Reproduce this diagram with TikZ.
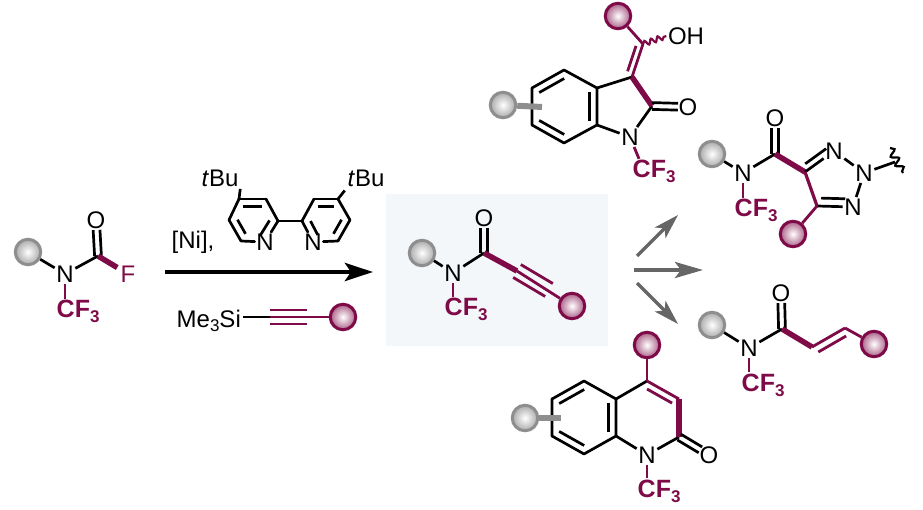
\documentclass[tikz,border=0pt]{standalone}
\usepackage{fontspec}
\setmainfont{Liberation Sans}
\usetikzlibrary{calc,arrows.meta,decorations.pathmorphing}
\definecolor{maroon}{HTML}{7E0B47}
\definecolor{ballgrey}{HTML}{8E8E8E}
\definecolor{arrowgrey}{HTML}{666666}
\definecolor{panel}{HTML}{F3F7FA}
\tikzset{
    atom/.style={inner sep=1.5pt, font=\fontsize{24}{24}\selectfont},
    cfgroup/.style={inner sep=1.5pt, anchor=base west, text=maroon, font=\fontsize{25}{25}\selectfont\bfseries},
    bond/.style={line width=2.7pt},
    mbond/.style={line width=2.8pt, draw=maroon},
    wedge/.style={line width=5.5pt, draw=maroon},
    greyball/.style={circle, draw=ballgrey, line width=3pt, minimum size=25.5pt, inner sep=0pt, inner color=white, outer color=ballgrey!75},
    mball/.style={circle, draw=maroon, line width=3pt, minimum size=25.5pt, inner sep=0pt, inner color=white, outer color=maroon!65},
    bigarrow/.style={line width=4.5pt, -{Stealth[length=28pt,width=18pt,inset=6pt]}},
    sidearrow/.style={draw=arrowgrey, line width=3.2pt, -{Stealth[length=25pt,width=15pt,inset=6pt]}},
    midarrow/.style={draw=arrowgrey, line width=4pt, -{Stealth[length=28pt,width=16pt,inset=6pt]}},
}
\newcommand{\cfthree}{CF\raisebox{-5pt}{\fontsize{17}{17}\selectfont 3}}
\newcommand{\innerbond}[4][bond]{\draw[#1, shorten <=4pt, shorten >=4pt] ($(#2)!#4!90:(#3)$) -- ($(#3)!#4!-90:(#2)$);}
\newcommand{\carbonyl}[3][bond]{
    \draw[#1, shorten >=10pt] ($(#2)!3.4pt!90:(#3)$) -- ($(#3)!3.4pt!-90:(#2)$);
    \draw[#1, shorten >=10pt] ($(#2)!3.4pt!-90:(#3)$) -- ($(#3)!3.4pt!90:(#2)$);
}
\begin{document}
\begin{tikzpicture}[x=1pt, y=-1pt]
    \useasboundingbox (0, 0) rectangle (923, 510);
    \fill[panel] (386, 194) rectangle (608, 346);

    \node[greyball] (smR) at (28, 252) {};
    \node[atom] (smN) at (65, 274) {N};
    \coordinate (smC) at (98, 256);
    \node[atom] (smO) at (96, 220) {O};
    \node[atom, text=maroon] (smF) at (128, 274) {F};
    \node[cfgroup] (smCF) at (55, 318) {\cfthree};
    \draw[bond] (smR) -- (smN);
    \draw[bond] (smN) -- (smC);
    \carbonyl{smC}{smO}
    \draw[wedge, shorten >=2pt] (smC) -- (smF);
    \draw[mbond] (smN) -- (smN |- smCF.north);

    \node[atom, anchor=base west] (ni) at (170, 249) {[Ni],};
    \node[atom, anchor=base west] (bpBuA) at (200, 187) {\textit{t}Bu};
    \node[atom, anchor=base west] (bpBuB) at (346, 187) {\textit{t}Bu};
    \coordinate (a1) at (239, 199);
    \coordinate (a2) at (266, 199);
    \coordinate (a3) at (278, 221);
    \node[atom] (a4) at (265, 242) {N};
    \coordinate (a5) at (241, 241);
    \coordinate (a6) at (229, 220);
    \coordinate (b1) at (338, 199);
    \coordinate (b2) at (314, 199);
    \coordinate (b3) at (302, 221);
    \node[atom] (b4) at (313, 242) {N};
    \coordinate (b5) at (338, 241);
    \coordinate (b6) at (350, 220);
    \foreach \from/\to in {a1/a2, a2/a3, a3/a4, a4/a5, a5/a6, a6/a1, b1/b2, b2/b3, b3/b4, b4/b5, b5/b6, b6/b1, a3/b3}
        \draw[bond, line join=round, line cap=round] (\from) -- (\to);
    \draw[bond] (a1) -- (bpBuA.south east);
    \draw[bond, shorten >=2pt] (b1) -- (bpBuB.south west);
    \innerbond{a1}{a2}{-7.5pt}
    \innerbond{a3}{a4}{-7.5pt}
    \innerbond{a5}{a6}{-7.5pt}
    \innerbond{b1}{b2}{7.5pt}
    \innerbond{b3}{b4}{7.5pt}
    \innerbond{b5}{b6}{7.5pt}

    \coordinate (mainS) at (165, 272);
    \coordinate (mainE) at (373, 272);
    \draw[bigarrow] (mainS) -- (mainE);

    \node[atom, anchor=base west] (si) at (175, 327) {Me\raisebox{-5pt}{\fontsize{17}{17}\selectfont 3}Si};
    \coordinate (ynA) at (270, 317);
    \coordinate (ynB) at (307, 317);
    \node[mball] (ynR) at (343, 317) {};
    \draw[bond] (si.east |- ynA) -- (ynA);
    \draw[mbond] (ynA) -- (ynB);
    \draw[mbond] ($(ynA)!7pt!90:(ynB)$) -- ($(ynB)!7pt!-90:(ynA)$);
    \draw[mbond] ($(ynA)!7pt!-90:(ynB)$) -- ($(ynB)!7pt!90:(ynA)$);
    \draw[mbond] (ynB) -- (ynR);

    \node[greyball] (pR) at (422, 253) {};
    \node[atom] (pN) at (453, 273) {N};
    \coordinate (pC) at (484, 253);
    \node[atom] (pO) at (484, 218) {O};
    \node[cfgroup] (pCF) at (443, 316) {\cfthree};
    \coordinate (pA) at (517, 271);
    \coordinate (pB) at (549, 290);
    \node[mball] (pS) at (572, 306) {};
    \draw[bond] (pR) -- (pN);
    \draw[bond] (pN) -- (pC);
    \carbonyl{pC}{pO}
    \draw[mbond] (pN) -- (pN |- pCF.north);
    \draw[wedge] (pC) -- (pA);
    \draw[mbond] (pA) -- (pS);
    \draw[mbond] ($(pA)!7.5pt!90:(pB)$) -- ($(pB)!7.5pt!-90:(pA)$);
    \draw[mbond] ($(pA)!7.5pt!-90:(pB)$) -- ($(pB)!7.5pt!90:(pA)$);

    \coordinate (upS) at (637, 256);
    \coordinate (upE) at (678, 215);
    \coordinate (midS) at (634, 270);
    \coordinate (midE) at (703, 270);
    \coordinate (dnS) at (637, 283);
    \coordinate (dnE) at (678, 324);
    \draw[sidearrow] (upS) -- (upE);
    \draw[midarrow] (midS) -- (midE);
    \draw[sidearrow] (dnS) -- (dnE);

    \node[mball] (inS) at (618, 16) {};
    \coordinate (inX) at (643, 44);
    \node[atom] (inOH) at (686, 36) {OH};
    \coordinate (inC3) at (632, 77);
    \coordinate (inC2) at (652, 106);
    \node[atom] (inO) at (688, 107) {O};
    \node[atom] (inN) at (630, 137) {N};
    \node[cfgroup] (inCF) at (631, 178) {\cfthree};
    \node[greyball] (inR) at (503, 105) {};
    \coordinate (i1) at (564, 70);
    \coordinate (i2) at (532, 88);
    \coordinate (i3) at (532, 125);
    \coordinate (i4) at (564, 143);
    \coordinate (i5) at (597, 125);
    \coordinate (i6) at (597, 88);
    \coordinate (inStub) at (542, 107);
    \draw[bond, line join=round] (i1) -- (i2) -- (i3) -- (i4) -- (i5) -- (i6) -- cycle;
    \innerbond{i1}{i2}{7.5pt}
    \innerbond{i3}{i4}{7.5pt}
    \innerbond{i5}{i6}{7.5pt}
    \draw[bond] (i6) -- (inC3);
    \draw[bond] (i5) -- (inN);
    \draw[bond] (inC2) -- (inN);
    \draw[wedge] (inC3) -- (inC2);
    \carbonyl{inC2}{inO}
    \draw[mbond] (inS) -- (inX);
    \draw[mbond] (inX) -- (inC3);
    \innerbond[mbond]{inX}{inC3}{-6pt}
    \draw[draw=maroon, line width=2.2pt, decorate, decoration={snake, segment length=7pt, amplitude=2.5pt}] (inX) -- (inOH.west);
    \draw[mbond] (inN) -- (inCF.north -| 639, 0);
    \draw[line width=6pt, draw=ballgrey] (inR) -- (inStub);

    \node[greyball] (tzR) at (712, 154) {};
    \node[atom] (tzN) at (743, 173) {N};
    \coordinate (tzC) at (775, 154);
    \node[atom] (tzO) at (775, 118) {O};
    \node[cfgroup] (tzCF) at (733, 217) {\cfthree};
    \coordinate (tzC4) at (805, 172);
    \coordinate (tzC5) at (817, 206);
    \node[atom] (tzN1) at (834, 151) {N};
    \node[atom] (tzN2) at (864, 173) {N};
    \node[atom] (tzN3) at (853, 207) {N};
    \node[mball] (tzS) at (793, 234) {};
    \coordinate (tzWa) at (895, 162);
    \coordinate (tzWb) at (890, 148);
    \coordinate (tzWc) at (903, 173);
    \draw[bond] (tzR) -- (tzN);
    \draw[bond] (tzN) -- (tzC);
    \carbonyl{tzC}{tzO}
    \draw[mbond] (tzN) -- (tzN |- tzCF.north);
    \draw[wedge] (tzC) -- (tzC4);
    \draw[bond] (tzC4) -- (tzN1);
    \draw[bond, shorten >=5pt, shorten <=5pt] ($(tzC4)!6.5pt!90:(tzN1)$) -- ($(tzN1)!6.5pt!-90:(tzC4)$);
    \draw[bond] (tzN1) -- (tzN2);
    \draw[bond] (tzN2) -- (tzN3);
    \draw[bond] (tzC5) -- (tzN3);
    \draw[bond, shorten <=4pt, shorten >=8pt] ($(tzC5)!8pt!90:(tzN3)$) -- ($(tzN3)!8pt!-90:(tzC5)$);
    \draw[line width=3.2pt, draw=maroon] (tzC4) -- (tzC5);
    \draw[mbond] (tzC5) -- (tzS);
    \draw[bond] (tzN2) -- (tzWa);
    \draw[line width=2.2pt, decorate, decoration={snake, segment length=10pt, amplitude=3.5pt}] (tzWb) -- (tzWc);

    \node[greyball] (enR) at (712, 325) {};
    \node[atom] (enN) at (749, 348) {N};
    \coordinate (enC) at (782, 329);
    \node[atom] (enO) at (781, 293) {O};
    \node[cfgroup] (enCF) at (740, 391) {\cfthree};
    \coordinate (enA) at (812, 347);
    \coordinate (enB) at (845, 328);
    \node[mball] (enS) at (874, 344) {};
    \draw[bond] (enR) -- (enN);
    \draw[bond] (enN) -- (enC);
    \carbonyl{enC}{enO}
    \draw[mbond] (enN) -- (enN |- enCF.north);
    \draw[wedge] (enC) -- (enA);
    \draw[mbond] (enA) -- (enB);
    \draw[mbond, shorten <=3pt, shorten >=3pt] ($(enA)!7.5pt!-90:(enB)$) -- ($(enB)!7.5pt!90:(enA)$);
    \draw[mbond] (enB) -- (enS);

    \node[mball] (quS) at (647, 345) {};
    \coordinate (quC4) at (647, 381);
    \coordinate (quC3) at (679, 399);
    \coordinate (quC2) at (679, 437);
    \node[atom] (quO) at (709, 455) {O};
    \node[atom] (quN) at (647, 455) {N};
    \node[cfgroup] (quCF) at (636, 497) {\cfthree};
    \node[greyball] (quR) at (525, 418) {};
    \coordinate (q1) at (584, 381);
    \coordinate (q2) at (552, 399);
    \coordinate (q3) at (552, 436);
    \coordinate (q4) at (584, 454);
    \coordinate (q5) at (616, 436);
    \coordinate (q6) at (616, 399);
    \coordinate (quStub) at (561, 418);
    \draw[bond, line join=round] (q1) -- (q2) -- (q3) -- (q4) -- (q5) -- (q6) -- cycle;
    \innerbond{q1}{q2}{7.5pt}
    \innerbond{q3}{q4}{7.5pt}
    \innerbond{q5}{q6}{7.5pt}
    \draw[bond] (q6) -- (quC4);
    \draw[bond] (q5) -- (quN);
    \draw[bond] (quC2) -- (quN);
    \draw[mbond] (quC4) -- (quC3);
    \innerbond[mbond]{quC4}{quC3}{-7pt}
    \draw[line width=6pt, draw=maroon] (quC3) -- (quC2);
    \carbonyl{quC2}{quO}
    \draw[mbond] (quS) -- (quC4);
    \draw[mbond] (quN) -- (quN |- quCF.north);
    \draw[line width=6pt, draw=ballgrey] (quR) -- (quStub);
\end{tikzpicture}
\end{document}
